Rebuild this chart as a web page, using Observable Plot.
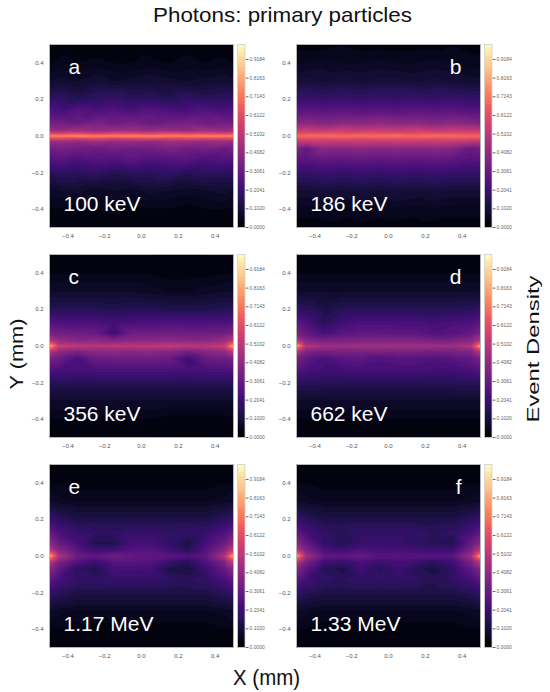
<!DOCTYPE html>
<html><head><meta charset="utf-8">
<script src="https://cdn.jsdelivr.net/npm/d3@7"></script>
<script src="https://cdn.jsdelivr.net/npm/@observablehq/plot@0.6"></script>
<style>
body{margin:0;background:#fff;}
#root{position:relative;width:550px;height:692px;overflow:hidden;font-family:"Liberation Sans",Arial,sans-serif}
#root svg{position:absolute}
</style></head><body><div id="root"></div>
<script>
// ---- data ----
const xs = [-0.5, -0.45, -0.35, -0.25, -0.15, -0.05, 0.05, 0.15, 0.25, 0.35, 0.45, 0.5];
const ys = [0.5, 0.4, 0.3, 0.2, 0.13, 0.07, 0.03, 0.012, 0, -0.012, -0.03, -0.07, -0.13, -0.2, -0.3, -0.4, -0.5];
const axisTicks = [-0.4, -0.2, 0, 0.2, 0.4];
const letters = ["a", "b", "c", "d", "e", "f"];
const energies = ["100 keV", "186 keV", "356 keV", "662 keV", "1.17 MeV", "1.33 MeV"];
const titleText = "Photons: primary particles";
const xLabel = "X (mm)", yLabel = "Y (mm)", cLabel = "Event Density";

// event density (percent of max), rows = ys (top to bottom), cols = xs
const gridA = [
 [2,2,3,2,2,3,2,2,3,2,2,2],
 [4,5,4,5,4,4,5,4,5,4,5,4],
 [8,9,8,10,8,9,10,9,8,9,10,9],
 [16,18,15,17,19,16,17,15,18,16,17,17],
 [26,24,28,25,27,25,28,26,24,27,25,26],
 [33,34,31,35,32,34,31,33,35,32,34,33],
 [43,42,44,41,43,44,42,43,41,44,42,43],
 [61,59,62,58,61,60,59,62,60,61,59,61],
 [76,74,77,73,75,76,74,75,73,76,75,77],
 [60,61,59,61,58,60,62,59,61,60,61,60],
 [42,43,41,44,42,43,41,44,43,42,44,42],
 [32,34,33,31,34,32,33,35,32,34,31,33],
 [25,27,24,26,25,28,25,26,27,24,26,25],
 [15,17,16,18,15,17,16,18,15,17,16,16],
 [7,8,9,7,8,7,9,8,7,8,9,8],
 [4,4,3,4,5,3,4,4,3,4,4,4],
 [2,2,2,2,2,2,2,2,2,2,2,2]
];
const gridB = [
 [3,3,3,4,3,3,3,3,3,4,3,3],
 [6,6,7,6,6,7,6,6,7,6,5,5],
 [10,11,10,11,10,11,11,10,11,10,9,9],
 [19,20,19,20,19,20,19,20,19,20,19,19],
 [28,29,28,29,28,29,28,29,28,29,27,27],
 [39,40,38,40,39,41,39,40,38,40,38,37],
 [53,54,52,55,53,54,53,55,52,54,53,52],
 [62,63,64,62,64,63,64,62,64,63,62,62],
 [68,69,70,68,70,69,70,68,70,69,68,69],
 [62,63,62,63,62,63,63,63,62,63,62,61],
 [52,53,54,53,54,53,54,53,54,53,51,50],
 [35,29,39,38,39,38,39,38,39,37,30,33],
 [27,27,29,28,29,28,29,28,29,28,26,26],
 [19,19,20,19,20,19,20,19,20,19,19,19],
 [10,10,11,10,11,10,11,10,11,10,10,10],
 [5,5,6,5,6,5,6,5,6,5,5,5],
 [3,3,3,3,3,3,3,3,3,3,3,3]
];
const gridC = [
 [2,2,2,2,2,2,2,2,2,2,2,2],
 [4,4,4,4,4,4,4,3,3,3,4,4],
 [8,8,8,8,8,8,7,6,6,7,8,8],
 [15,15,15,15,14,15,15,14,14,14,15,15],
 [25,24,24,24,22,23,24,24,24,24,24,25],
 [35,33,32,31,21,32,32,33,32,32,33,35],
 [50,42,39,40,37,39,40,40,39,39,42,50],
 [68,48,46,46,46,46,46,47,46,46,48,68],
 [84,55,51,50,51,50,51,52,51,50,55,84],
 [68,48,46,45,46,46,46,47,45,46,48,68],
 [50,41,36,39,40,39,40,38,34,39,41,50],
 [34,32,23,31,32,32,32,31,21,31,32,34],
 [25,24,23,24,24,24,24,24,23,24,24,25],
 [15,15,15,15,15,15,15,15,15,15,15,15],
 [8,8,8,8,8,8,8,8,8,8,8,8],
 [4,4,4,4,4,4,4,3,3,3,3,4],
 [2,2,2,2,2,2,2,2,2,2,2,2]
];
const gridD = [
 [2,2,2,2,2,2,2,2,2,2,2,2],
 [4,4,4,4,4,4,4,4,4,4,4,4],
 [8,8,8,8,8,8,8,8,8,8,8,8],
 [17,16,13,15,15,15,15,15,15,15,16,17],
 [27,24,15,21,23,23,23,23,22,23,24,27],
 [35,30,23,27,29,29,28,28,25,27,30,35],
 [50,38,35,35,36,36,36,36,34,35,38,50],
 [66,44,40,40,41,41,41,41,40,40,44,66],
 [82,50,44,44,45,45,45,45,44,44,50,82],
 [66,44,40,40,41,41,41,41,40,40,44,66],
 [50,37,34,35,35,36,35,35,34,35,37,50],
 [34,29,23,27,28,25,27,26,25,27,29,34],
 [26,24,22,22,23,23,23,23,22,22,24,26],
 [16,16,15,15,15,15,15,15,15,15,16,16],
 [8,8,8,8,8,8,8,8,8,8,8,8],
 [4,4,4,4,4,4,4,4,4,4,4,4],
 [2,2,2,2,2,2,2,2,2,2,2,2]
];
const gridE = [
 [2,2,2,2,2,2,2,2,2,2,2,2],
 [4,4,3,3,3,3,3,3,3,3,4,4],
 [8,7,6,6,6,6,6,6,6,6,7,8],
 [19,16,13,13,13,13,13,13,13,13,16,19],
 [29,24,19,17,17,19,19,17,18,19,24,29],
 [40,31,23,14,14,22,22,18,13,22,31,40],
 [54,38,28,21,22,26,26,22,15,26,38,54],
 [70,44,30,26,30,28,28,26,22,28,44,70],
 [84,48,31,28,32,29,28,27,25,29,48,84],
 [70,44,30,26,31,28,28,26,22,28,44,70],
 [54,37,26,21,27,27,26,20,16,25,37,54],
 [39,30,17,14,23,23,22,13,12,20,30,39],
 [28,23,18,18,19,19,19,17,16,18,23,28],
 [18,16,13,13,13,13,13,13,13,13,16,18],
 [8,7,6,6,6,6,6,6,6,6,7,8],
 [4,4,3,3,3,3,3,3,3,3,4,4],
 [2,2,2,2,2,2,2,2,2,2,2,2]
];
const gridF = [
 [2,2,2,2,2,2,2,2,2,2,2,2],
 [4,4,3,3,3,3,3,3,3,3,4,4],
 [8,7,6,6,6,6,6,6,6,6,7,8],
 [19,16,13,13,13,13,13,13,13,13,16,19],
 [28,23,17,16,18,18,18,18,16,17,23,28],
 [39,30,18,14,19,19,19,17,16,14,30,39],
 [52,37,24,22,25,23,23,22,20,21,37,52],
 [68,42,27,26,28,25,26,25,24,25,42,68],
 [82,46,29,28,30,26,27,26,26,27,46,82],
 [68,42,27,26,28,25,26,25,24,25,42,68],
 [52,36,22,20,24,21,22,21,17,22,36,52],
 [38,29,16,13,21,16,20,15,13,18,29,38],
 [27,22,17,16,18,17,18,17,15,17,22,27],
 [18,15,13,13,13,13,13,13,13,13,15,18],
 [8,7,6,6,6,6,6,6,6,6,7,8],
 [4,4,3,3,3,3,3,3,3,3,4,4],
 [2,2,2,2,2,2,2,2,2,2,2,2]
];
const grids = [gridA, gridB, gridC, gridD, gridE, gridF];

// contour levels (50 levels 0..1) and colorbar ticks every 5th level
const levels = d3.range(50).map(i => i / 49);
const cbTicks = levels.filter((d, i) => i % 5 === 0);

// ---- layout ----
const FONT = "Liberation Sans, Arial, sans-serif";
const colLeft = [48.5, 295.5];
const rowTop = [44.3, 254.3, 464];
const FW = 184, FH = 183;
const ML = 30, MR = 4, MT = 4, MB = 18;
const root = document.getElementById("root");

function panel(k) {
  const grid = grids[k];
  const data = [];
  grid.forEach((row, i) => row.forEach((v, j) => data.push({x: xs[j], y: ys[i], v: v / 100})));
  const right = k % 2 === 1;
  const half = 0.5 / 49;
  const svg = Plot.plot({
    width: FW + ML + MR, height: FH + MT + MB,
    marginLeft: ML, marginRight: MR, marginTop: MT, marginBottom: MB,
    style: {background: "transparent", fontSize: "6px", color: "#555", fontFamily: FONT},
    x: {domain: [-0.5, 0.5], ticks: axisTicks, tickFormat: d3.format(".1f"), tickSize: 0, tickPadding: 6, label: null},
    y: {domain: [-0.5, 0.5], ticks: axisTicks, tickFormat: d3.format(".1f"), tickSize: 0, tickPadding: 6, label: null},
    color: {type: "linear", scheme: "magma", domain: [-half, 1 - half]},
    marks: [
      Plot.contour(data, {x: "x", y: "y", fill: "v", interpolate: "barycentric", thresholds: levels,
        x1: -0.5, x2: 0.5, y1: -0.5, y2: 0.5, width: 368, height: 366, stroke: "none"}),
      Plot.frame({stroke: "#b5b5b5", strokeWidth: 1}),
      Plot.text([letters[k]], {text: d => d, frameAnchor: right ? "top-right" : "top-left",
        textAnchor: right ? "end" : "start", dx: right ? -19 : 19, dy: 29, lineAnchor: "bottom",
        fill: "white", fontSize: 21, fontFamily: FONT}),
      Plot.text([energies[k]], {text: d => d, frameAnchor: "bottom-left", textAnchor: "start",
        dx: 14, dy: -17, lineAnchor: "bottom", fill: "white", fontSize: 21, fontFamily: FONT})
    ]
  });
  svg.style.left = (colLeft[k % 2] - ML) + "px";
  svg.style.top = (rowTop[Math.floor(k / 2)] - MT) + "px";
  root.appendChild(svg);

  // colorbar: one raster row per contour band
  const bands = levels.slice(0, -1).map((l, i) => ({mid: (l + levels[i + 1]) / 2}));
  const CBW = 7.5, CBR = 30;
  const cb = Plot.plot({
    width: CBW + CBR, height: FH + MT + MB,
    marginLeft: 0, marginRight: CBR, marginTop: MT, marginBottom: MB,
    style: {background: "transparent", fontSize: "5px", color: "#666", fontFamily: FONT},
    x: {axis: null, domain: [0, 1]},
    y: {domain: [0, 1], axis: "right", ticks: cbTicks, tickFormat: d3.format(".4f"), tickSize: 3, tickPadding: 1.5, label: null},
    color: {type: "linear", scheme: "magma", domain: [0, 1]},
    marks: [
      Plot.raster(bands, {x: () => 0.5, y: "mid", fill: "mid", x1: 0, x2: 1, y1: 0, y2: 1,
        width: 1, height: 49, imageRendering: "pixelated"}),
      Plot.frame({stroke: "#d0d0d0", strokeWidth: 0.8})
    ]
  });
  cb.style.left = (colLeft[k % 2] + FW + 4.5) + "px";
  cb.style.top = (rowTop[Math.floor(k / 2)] - MT) + "px";
  root.appendChild(cb);
}
for (let k = 0; k < 6; k++) panel(k);

// ---- overall labels ----
const ns = "http://www.w3.org/2000/svg";
const lab = document.createElementNS(ns, "svg");
lab.setAttribute("width", 550); lab.setAttribute("height", 692);
lab.style.left = "0px"; lab.style.top = "0px"; lab.style.pointerEvents = "none";
function addText(str, x, y, size, len, rot) {
  const t = document.createElementNS(ns, "text");
  t.textContent = str;
  t.setAttribute("font-family", FONT);
  t.setAttribute("font-size", size);
  t.setAttribute("text-anchor", "middle");
  t.setAttribute("fill", "#111");
  if (len) { t.setAttribute("textLength", len); t.setAttribute("lengthAdjust", "spacingAndGlyphs"); }
  if (rot) { t.setAttribute("transform", `translate(${x},${y}) rotate(-90)`); }
  else { t.setAttribute("x", x); t.setAttribute("y", y); }
  lab.appendChild(t);
}
addText(titleText, 282.5, 22, 21, 259);
addText(xLabel, 266.5, 685, 22, 67);
addText(yLabel, 23, 354, 18.5, 71, true);
addText(cLabel, 538.5, 349, 17, 147, true);
root.appendChild(lab);
</script>
</body></html>
